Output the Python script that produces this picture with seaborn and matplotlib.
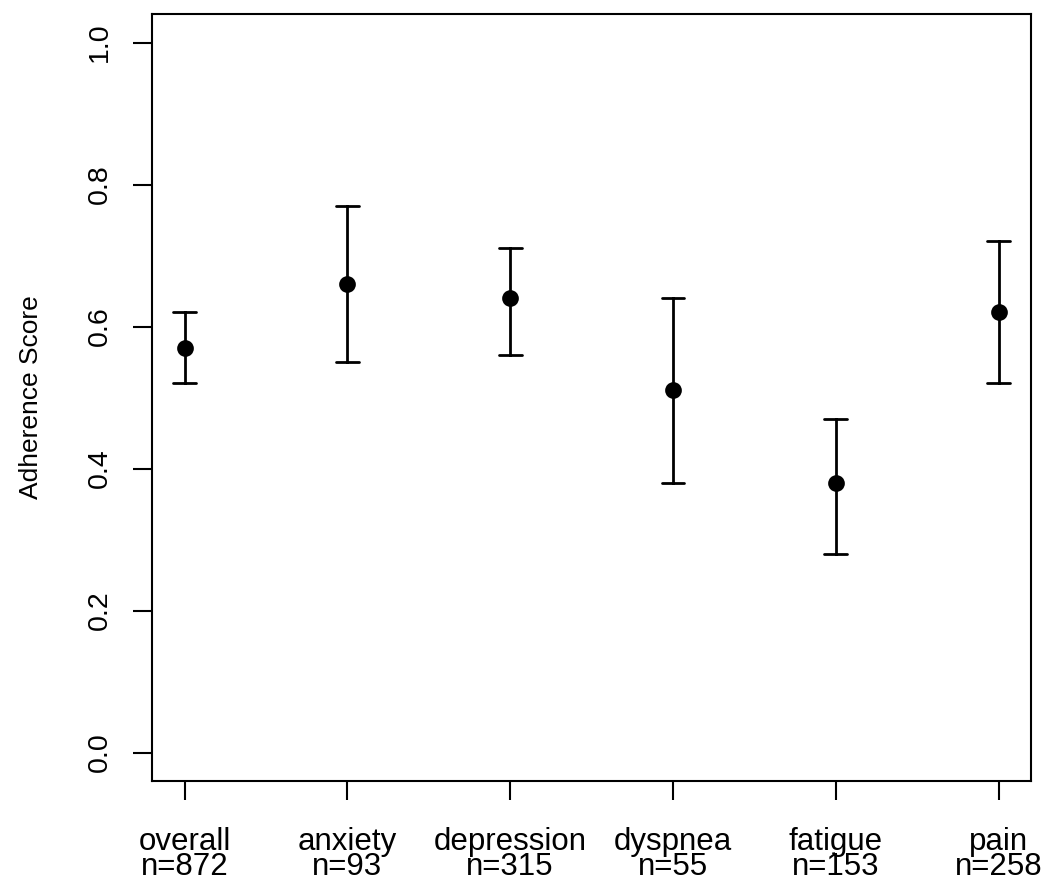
import numpy as np
import pandas as pd
import matplotlib
matplotlib.use("Agg")
import matplotlib.pyplot as plt
import seaborn as sns

# values
categories = ["overall", "anxiety", "depression", "dyspnea", "fatigue", "pain"]
counts = [872, 93, 315, 55, 153, 258]
score = [0.57, 0.66, 0.64, 0.51, 0.38, 0.62]
lower = [0.52, 0.55, 0.56, 0.38, 0.28, 0.52]
upper = [0.62, 0.77, 0.71, 0.64, 0.47, 0.72]

# long table: lower / estimate / upper per category; median gives the estimate,
# min/max give the interval ends
df = pd.DataFrame({
    "category": np.repeat(categories, 3),
    "value": np.ravel(np.column_stack([lower, score, upper])),
})

sns.set_style("ticks")
plt.rcParams["font.family"] = ["Liberation Sans", "DejaVu Sans"]
plt.rcParams["text.color"] = "black"
plt.rcParams["axes.labelcolor"] = "black"
plt.rcParams["xtick.color"] = "black"
plt.rcParams["ytick.color"] = "black"

fig = plt.figure(figsize=(10.5, 8.81), dpi=100)
ax = fig.add_axes([0.1448, 0.1135, 0.8372, 0.8705])

sns.pointplot(data=df, x="category", y="value", order=categories,
              estimator="median", errorbar=lambda v: (v.min(), v.max()),
              capsize=0.14, linestyle="none", color="black", marker="o",
              markersize=10, err_kws={"linewidth": 2}, ax=ax)

ax.set_xlim(-0.2, 5.2)
ax.set_ylim(-0.04, 1.04)
ax.set_yticks([0.0, 0.2, 0.4, 0.6, 0.8, 1.0])
ax.set_yticklabels(["0.0", "0.2", "0.4", "0.6", "0.8", "1.0"],
                   rotation=90, va="center", fontsize=20.5)
ax.set_xticks(range(len(categories)))
ax.set_xticklabels([f"{c}\nn={n}" for c, n in zip(categories, counts)],
                   fontsize=22.5, linespacing=0.8)
ax.tick_params(axis="both", direction="out", length=14, width=1.5, color="black")
ax.tick_params(axis="x", pad=19)
ax.tick_params(axis="y", pad=14)

for s in ax.spines.values():
    s.set_visible(True)
    s.set_linewidth(1.5)
    s.set_color("black")

ax.set_xlabel("")
ax.set_ylabel("Adherence Score", fontsize=19, labelpad=32)

fig.savefig("out.png", dpi=100)
